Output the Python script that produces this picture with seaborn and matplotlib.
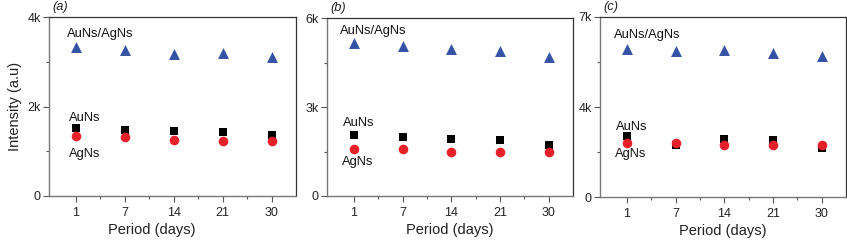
import matplotlib
matplotlib.use("Agg")
import matplotlib.pyplot as plt
import seaborn as sns
import pandas as pd
import numpy as np
from matplotlib.ticker import FixedLocator

days = ["1", "7", "14", "21", "30"]

# panel (a)
a_auag = [3340, 3270, 3180, 3190, 3100]
a_au = [1510, 1470, 1460, 1430, 1370]
a_ag = [1330, 1310, 1250, 1240, 1240]
# panel (b)
b_auag = [5150, 5060, 4970, 4900, 4680]
b_au = [2050, 1990, 1930, 1890, 1710]
b_ag = [1580, 1570, 1490, 1480, 1480]
# panel (c)
c_auag = [5770, 5670, 5730, 5600, 5470]
c_au = [2370, 2040, 2240, 2200, 1890]
c_ag = [2110, 2110, 2020, 2040, 2020]

panel_labels = ["a", "b", "c"]
ymax = [4000, 6000, 7000]
ymajor = [[0, 2000, 4000], [0, 3000, 6000], [0, 3500, 7000]]
ymajor_labels = [["0", "2k", "4k"], ["0", "3k", "6k"], ["0", "4k", "7k"]]
yminor = [[1000, 3000], [1500, 4500], [1750, 5250]]

sns.set_theme(style="white")
plt.rcParams['font.family'] = ['Liberation Sans', 'DejaVu Sans']

fig = plt.figure(figsize=(8.47, 2.40), dpi=100)
W, H = 847, 240
boxes = [(49, 296, 17, 196), (327, 573, 18, 196), (600, 846, 17, 197)]
xlabel_pos = [0.417, 0.5, 0.5]

data = [(a_auag, a_au, a_ag), (b_auag, b_au, b_ag), (c_auag, c_au, c_ag)]
# text positions (x offset in category units, y in data units)
txt = [
    ((-0.19, 3620), (0.18, 1740), (0.18, 940)),
    ((-0.29, 5560), (0.10, 2450), (0.08, 1140)),
    ((-0.27, 6310), (0.10, 2740), (0.08, 1660)),
]

blue = "#3553a4"
red = "#e8202a"
black = "#000000"

for i in range(3):
    l, r, t, b = boxes[i]
    ax = fig.add_axes([l / W, (H - b) / H, (r - l) / W, (b - t) / H])
    auag, au, ag = data[i]
    x = np.arange(len(days))
    df = pd.DataFrame({
        "x": np.concatenate([x, x, x]),
        "y": auag + au + ag,
        "series": ["AuNs/AgNs"] * 5 + ["AuNs"] * 5 + ["AgNs"] * 5,
    })
    sns.scatterplot(data=df[df.series == "AuNs/AgNs"], x="x", y="y", marker="^",
                    color=blue, s=62, linewidth=0, ax=ax, legend=False, zorder=3)
    sns.scatterplot(data=df[df.series == "AuNs"], x="x", y="y", marker="s",
                    color=black, s=30, linewidth=0, ax=ax, legend=False, zorder=3)
    sns.scatterplot(data=df[df.series == "AgNs"], x="x", y="y", marker="o",
                    color=red, s=48, linewidth=0, ax=ax, legend=False, zorder=4)

    ax.set_xlim(-0.55, 4.5)
    ax.set_ylim(0, ymax[i])
    ax.set_xticks(x)
    ax.set_xticklabels(days)
    ax.xaxis.set_minor_locator(FixedLocator([0.5, 1.5, 2.5, 3.5]))
    ax.set_yticks(ymajor[i])
    ax.set_yticklabels(ymajor_labels[i])
    ax.yaxis.set_minor_locator(FixedLocator(yminor[i]))
    ax.tick_params(axis="both", which="major", direction="out", length=4, width=0.8,
                   color="#555555", labelsize=9, labelcolor="#222222", pad=2,
                   bottom=True, left=True)
    ax.tick_params(axis="both", which="minor", direction="out", length=2, width=0.8,
                   color="#555555", bottom=True, left=True)
    ax.tick_params(axis="x", which="major", pad=4)
    for side in ["left", "bottom"]:
        ax.spines[side].set_color("#777777")
        ax.spines[side].set_linewidth(1.0)
    for side in ["top", "right"]:
        ax.spines[side].set_color("#333333")
        ax.spines[side].set_linewidth(0.9)
        ax.spines[side].set_visible(True)
    ax.grid(False)
    ax.set_xlabel("Period (days)", fontsize=10.5, color="#222222", labelpad=3)
    ax.xaxis.label.set_x(xlabel_pos[i])
    if i == 0:
        ax.set_ylabel("Intensity (a.u)", fontsize=10.5, color="#222222", labelpad=4)
    else:
        ax.set_ylabel("")

    (tx1, ty1), (tx2, ty2), (tx3, ty3) = txt[i]
    ax.text(tx1, ty1, "AuNs/AgNs", ha="left", va="center", fontsize=9.3, color="#111111")
    ax.text(tx2, ty2, "AuNs", ha="center", va="center", fontsize=9.3, color="#111111")
    ax.text(tx3, ty3, "AgNs", ha="center", va="center", fontsize=9.3, color="#111111")
    ax.text(0.012, 1.02, "(" + panel_labels[i] + ")", transform=ax.transAxes,
            ha="left", va="bottom", fontsize=9.3, color="#222222", style="italic")

fig.savefig("out.png", dpi=100)
